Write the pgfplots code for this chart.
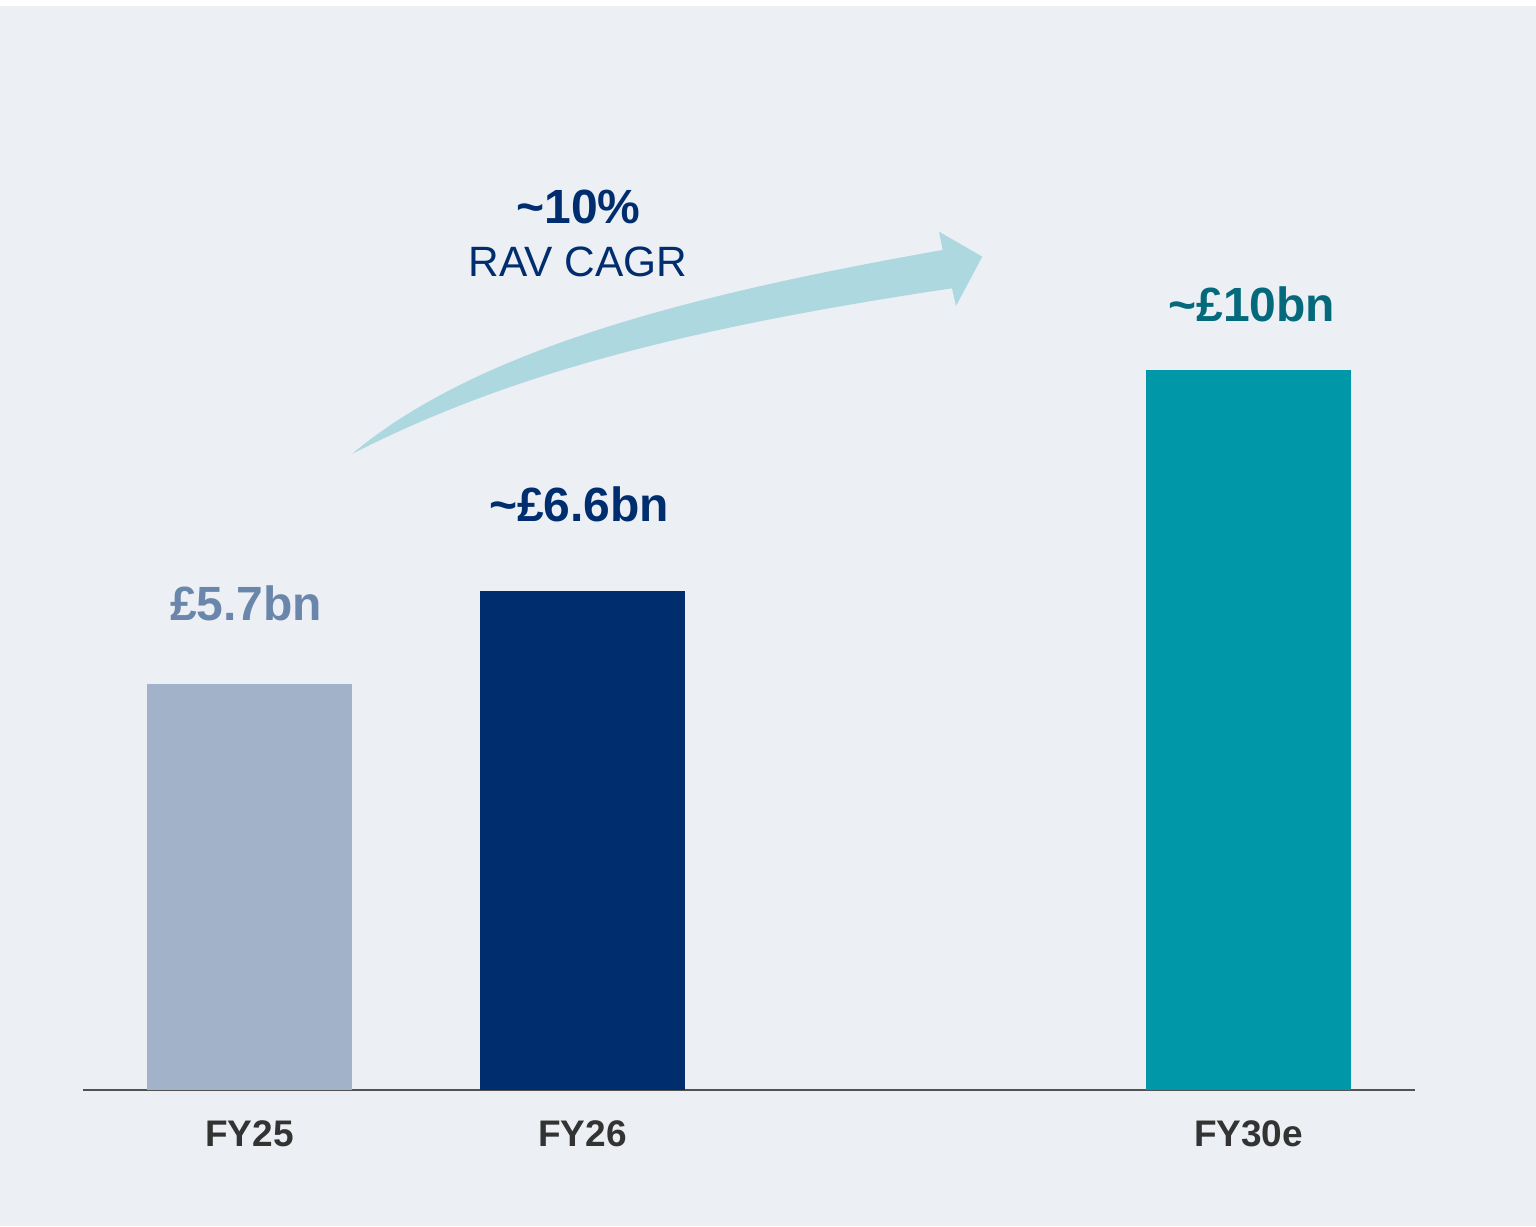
\documentclass[border=0pt]{standalone}
\usepackage{pgfplots}
\pgfplotsset{compat=1.18}
\usepackage{fontspec}
\setmainfont{Liberation Sans}
\definecolor{bgc}{HTML}{ECEFF4}
\definecolor{barA}{HTML}{A2B2C9}
\definecolor{barB}{HTML}{002D6E}
\definecolor{barC}{HTML}{0098A8}
\definecolor{labA}{HTML}{6B86AB}
\definecolor{labC}{HTML}{046A7B}
\definecolor{arr}{HTML}{ADD8DF}
\definecolor{tickc}{HTML}{333333}
\begin{document}
\begin{tikzpicture}
\fill[bgc] (-41.5pt,-68pt) rectangle (726.5pt,542pt);
\fill[white] (-41.5pt,542pt) rectangle (726.5pt,545pt);
\begin{axis}[
  scale only axis,
  width=666pt, height=534pt,
  xmin=-0.5, xmax=3.5, ymin=0, ymax=15,
  axis x line*=bottom, axis y line=none,
  x axis line style={-, color=tickc!85, line width=1.1pt},
  ybar, bar width=102.5pt, bar shift=0pt,
  xtick={0,1,3}, xticklabels={FY25,FY26,FY30e},
  major tick length=0pt,
  ytick=\empty,
  xticklabel style={anchor=base, yshift=-28.3pt, font=\fontsize{18.5}{20}\selectfont\bfseries, text=tickc},
  clip=false,
]
\addplot[fill=barA, draw=none] coordinates {(0,5.70)};
\addplot[fill=barB, draw=none] coordinates {(1,7.01)};
\addplot[fill=barC, draw=none] coordinates {(3,10.11)};

\fill[arr] (axis cs:0.3078,8.933) .. controls (axis cs:0.6874,10.423) and (axis cs:1.3423,11.188) .. (axis cs:2.0817,11.798)
  -- (axis cs:2.0706,12.055) -- (axis cs:2.2006,11.704) -- (axis cs:2.1216,11.011) -- (axis cs:2.1096,11.260)
  .. controls (axis cs:1.2781,10.678) and (axis cs:0.7628,10.017) .. (axis cs:0.3078,8.933) -- cycle;

\node[anchor=base, text=labA, font=\fontsize{24}{26}\selectfont\bfseries] at (axis cs:-0.01,6.60) {£5.7bn};
\node[anchor=base, text=barB, font=\fontsize{24}{26}\selectfont\bfseries] at (axis cs:0.99,7.98) {\textasciitilde£6.6bn};
\node[anchor=base, text=labC, font=\fontsize{24}{26}\selectfont\bfseries] at (axis cs:3.01,10.79) {\textasciitilde£10bn};
\node[anchor=base, text=barB, font=\fontsize{24}{26}\selectfont\bfseries] at (axis cs:0.988,12.17) {\textasciitilde10\%};
\node[anchor=base, text=barB, font=\fontsize{21.2}{23}\selectfont] at (axis cs:0.986,11.42) {RAV CAGR};
\end{axis}
\end{tikzpicture}
\end{document}
